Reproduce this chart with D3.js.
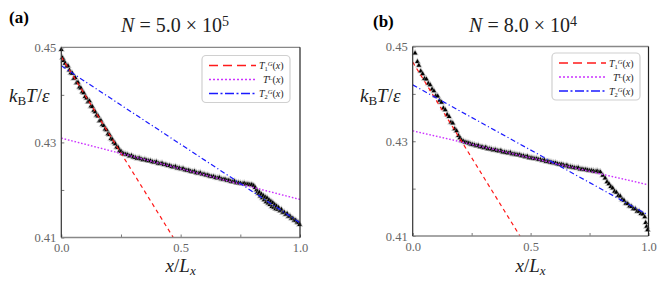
<!DOCTYPE html>
<html lang="en">
  <head>
    <meta charset="utf-8">
    <title>Temperature profiles</title>
    <style>
      body { margin: 0; background: #fff; }
      svg { display: block; }
      .tick text { font-family: "Liberation Serif", "DejaVu Serif", serif; font-size: 12.5px; fill: #666; }
      .tick line { stroke: #555; stroke-width: 0.8; }
      .serif { font-family: "Liberation Serif", "DejaVu Serif", serif; fill: #222; }
    </style>
  </head>
  <body>
    <svg id="canvas" width="664" height="284"></svg>

    <script src="https://d3js.org/d3.v7.min.js"></script>
    <script>
      // ---- data ----
      const yTicks = [0.41, 0.42, 0.43, 0.44, 0.45];
      const yLabeled = [0.41, 0.43, 0.45];
      const xTicks = [0, 0.25, 0.5, 0.75, 1];
      const xLabeled = [0, 0.5, 1];

      // panel (a), N = 5.0e5
      const pointsA = [
        [0.000,0.4495],[0.005,0.4478],[0.010,0.4472],[0.016,0.4466],[0.022,0.4460],[0.028,0.4461],
        [0.034,0.4452],[0.040,0.4446],[0.046,0.4445],[0.052,0.4434],[0.058,0.4436],[0.064,0.4425],
        [0.070,0.4426],[0.076,0.4416],[0.082,0.4414],[0.088,0.4406],[0.094,0.4404],[0.100,0.4396],
        [0.106,0.4393],[0.112,0.4385],[0.118,0.4387],[0.124,0.4376],[0.130,0.4375],[0.136,0.4367],
        [0.142,0.4364],[0.148,0.4357],[0.154,0.4355],[0.160,0.4345],[0.166,0.4346],[0.172,0.4337],
        [0.178,0.4335],[0.184,0.4328],[0.190,0.4326],[0.196,0.4318],[0.202,0.4316],[0.208,0.4308],
        [0.214,0.4306],[0.220,0.4300],[0.226,0.4297],[0.232,0.4290],[0.238,0.4289],[0.244,0.4282],
        [0.250,0.4281],[0.256,0.4277],[0.262,0.4276],
        [0.270,0.4275],[0.278,0.4274],[0.286,0.4271],[0.294,0.4272],[0.302,0.4269],[0.310,0.4268],
        [0.318,0.4266],[0.326,0.4267],[0.334,0.4265],[0.342,0.4263],[0.350,0.4264],[0.358,0.4262],
        [0.366,0.4261],[0.374,0.4261],[0.382,0.4259],[0.390,0.4258],[0.398,0.4259],[0.406,0.4256],
        [0.414,0.4255],[0.422,0.4256],[0.430,0.4253],[0.438,0.4253],[0.446,0.4251],[0.454,0.4251],
        [0.462,0.4249],[0.470,0.4248],[0.478,0.4249],[0.486,0.4246],[0.494,0.4246],[0.502,0.4244],
        [0.510,0.4245],[0.518,0.4242],[0.526,0.4241],[0.534,0.4241],[0.542,0.4239],[0.550,0.4238],
        [0.558,0.4239],[0.566,0.4236],[0.574,0.4235],[0.582,0.4236],[0.590,0.4233],[0.598,0.4233],
        [0.606,0.4231],[0.614,0.4231],[0.622,0.4229],[0.630,0.4228],[0.638,0.4228],[0.646,0.4226],
        [0.654,0.4225],[0.662,0.4226],[0.670,0.4223],[0.678,0.4222],[0.686,0.4222],[0.694,0.4220],
        [0.702,0.4220],[0.710,0.4218],[0.718,0.4217],[0.726,0.4218],[0.734,0.4215],[0.742,0.4215],
        [0.750,0.4214],[0.758,0.4213],[0.766,0.4214],[0.774,0.4212],[0.782,0.4212],[0.790,0.4211],
        [0.798,0.4211],[0.806,0.4209],
        [0.812,0.4205],[0.818,0.4200],[0.822,0.4196],[0.826,0.4192],[0.830,0.4195],[0.834,0.4187],
        [0.838,0.4191],[0.842,0.4183],[0.846,0.4188],[0.850,0.4179],[0.854,0.4185],[0.858,0.4175],
        [0.862,0.4183],[0.866,0.4172],[0.870,0.4179],[0.874,0.4169],[0.878,0.4176],[0.882,0.4165],
        [0.886,0.4173],[0.890,0.4163],[0.894,0.4169],[0.898,0.4160],[0.902,0.4166],[0.906,0.4159],
        [0.910,0.4163],[0.916,0.4156],[0.922,0.4159],[0.928,0.4152],[0.934,0.4153],[0.940,0.4148],
        [0.946,0.4150],[0.952,0.4144],[0.958,0.4145],[0.964,0.4140],[0.970,0.4140],[0.976,0.4136],
        [0.982,0.4136],[0.988,0.4132],[0.994,0.4131],[0.998,0.4127]
      ];
      const t1gA = [[0, 0.4480], [1, 0.3670]];
      const tLA  = [[0, 0.4309], [1, 0.4180]];
      const t2gA = [[0, 0.4461], [1, 0.4131]];

      // panel (b), N = 8.0e4
      const pointsB = [
        [0.010,0.4486],[0.020,0.4468],[0.026,0.4460],[0.034,0.4448],[0.042,0.4442],[0.050,0.4432],
        [0.058,0.4431],[0.066,0.4422],[0.074,0.4419],[0.082,0.4410],[0.090,0.4406],[0.098,0.4396],
        [0.106,0.4395],[0.114,0.4386],[0.122,0.4382],[0.130,0.4370],[0.138,0.4366],[0.146,0.4356],
        [0.154,0.4352],[0.162,0.4340],[0.170,0.4338],[0.178,0.4326],[0.186,0.4322],[0.194,0.4312],
        [0.200,0.4307],[0.206,0.4302],
        [0.214,0.4300],[0.222,0.4298],[0.230,0.4297],[0.238,0.4296],[0.246,0.4294],[0.254,0.4293],
        [0.262,0.4292],[0.270,0.4290],[0.278,0.4291],[0.286,0.4288],[0.294,0.4288],[0.302,0.4286],
        [0.310,0.4287],[0.318,0.4284],[0.326,0.4284],[0.334,0.4283],[0.342,0.4281],[0.350,0.4282],
        [0.358,0.4280],[0.366,0.4279],[0.374,0.4280],[0.382,0.4277],[0.390,0.4277],[0.398,0.4276],
        [0.406,0.4275],[0.414,0.4276],[0.422,0.4273],[0.430,0.4273],[0.438,0.4272],[0.446,0.4271],
        [0.454,0.4271],[0.462,0.4269],[0.470,0.4269],[0.478,0.4267],[0.486,0.4268],[0.494,0.4265],
        [0.502,0.4265],[0.510,0.4264],[0.518,0.4263],[0.526,0.4263],[0.534,0.4261],[0.542,0.4261],
        [0.550,0.4259],[0.558,0.4260],[0.566,0.4257],[0.574,0.4257],[0.582,0.4256],[0.590,0.4255],
        [0.598,0.4254],[0.606,0.4254],[0.614,0.4252],[0.622,0.4251],[0.630,0.4251],[0.638,0.4250],
        [0.646,0.4248],[0.654,0.4249],[0.662,0.4246],[0.670,0.4246],[0.678,0.4245],[0.686,0.4244],
        [0.694,0.4243],[0.702,0.4244],[0.710,0.4241],[0.718,0.4241],[0.726,0.4240],[0.734,0.4240],
        [0.742,0.4239],[0.750,0.4238],[0.758,0.4238],[0.766,0.4237],[0.774,0.4236],[0.782,0.4237],
        [0.790,0.4235],[0.796,0.4235],
        [0.806,0.4228],[0.816,0.4222],[0.824,0.4214],[0.832,0.4210],[0.840,0.4204],[0.848,0.4201],
        [0.856,0.4194],[0.864,0.4192],[0.872,0.4185],[0.880,0.4184],[0.888,0.4177],[0.896,0.4175],
        [0.904,0.4169],[0.912,0.4168],[0.920,0.4163],[0.928,0.4162],[0.936,0.4157],[0.944,0.4157],
        [0.952,0.4152],[0.960,0.4152],[0.968,0.4147],[0.976,0.4146],[0.984,0.4140],[0.988,0.4128],
        [0.992,0.4120],[0.996,0.4113]
      ];
      const t1gB = [[0, 0.4467], [1, 0.3660]];
      const tLB  = [[0, 0.4322], [1, 0.4208]];
      const t2gB = [[0, 0.4419], [1, 0.4144]];

      const svg = d3.select('#canvas');

      const styles = {
        t1g: {color: '#ff1a1a', dash: '4,3.5', legendDash: '9,5', width: 1.2},
        tL:  {color: '#cc33ff', dash: '1.6,1.8', legendDash: '2,2', width: 1.4},
        t2g: {color: '#1a1aff', dash: '5,2.5,1.2,2.5', legendDash: '9,2.5,2,2.5', width: 1.2}
      };

      // parts: [text, italic, shift (1 sup, -1 sub), size]
      function mathLabel(g, parts) {
        parts.forEach(p => {
          const t = g.append('tspan').text(p[0]);
          if (p[1]) t.attr('font-style', 'italic');
          if (p[3]) t.attr('font-size', p[3]);
          if (p[2]) t.attr('baseline-shift', p[2] > 0 ? '45%' : '-25%');
        });
      }

      function draw_panel(cfg) {
        const x = d3.scaleLinear().domain([0, 1]).range([cfg.left, cfg.right]);
        const y = d3.scaleLinear().domain([0.41, 0.45]).range([cfg.bottom, cfg.top]);
        const g = svg.append('g');

        const clipId = 'clip' + cfg.tag;
        svg.append('clipPath').attr('id', clipId)
          .append('rect')
          .attr('x', cfg.left).attr('y', cfg.top)
          .attr('width', cfg.right - cfg.left).attr('height', cfg.bottom - cfg.top);

        // axes with inward ticks
        g.append('g')
          .attr('transform', `translate(0,${cfg.bottom})`)
          .call(d3.axisBottom(x).tickValues(xTicks).tickSize(-3).tickPadding(6)
            .tickFormat(d => xLabeled.includes(d) ? d3.format('.1f')(d) : ''))
          .call(a => a.select('.domain').remove());
        g.append('g')
          .attr('transform', `translate(${cfg.left},0)`)
          .call(d3.axisLeft(y).tickValues(yTicks).tickSize(-3).tickPadding(5)
            .tickFormat(d => yLabeled.includes(d) ? d3.format('.2f')(d) : ''))
          .call(a => a.select('.domain').remove());

        // data points
        g.append('g').selectAll('path')
          .data(cfg.points)
          .join('path')
          .attr('d', d3.symbol(d3.symbolTriangle, 9))
          .attr('transform', d => `translate(${x(d[0])},${y(d[1])})`)
          .attr('fill', '#000')
          .attr('stroke', '#999')
          .attr('stroke-opacity', 0.5)
          .attr('stroke-width', 1.6)
          .attr('paint-order', 'stroke');

        // fit lines
        const line = d3.line().x(d => x(d[0])).y(d => y(d[1]));
        const fits = g.append('g').attr('clip-path', `url(#${clipId})`);
        [['t1g', cfg.t1g], ['tL', cfg.tL], ['t2g', cfg.t2g]].forEach(([k, d]) => {
          fits.append('path')
            .attr('d', line(d))
            .attr('fill', 'none')
            .attr('stroke', styles[k].color)
            .attr('stroke-width', styles[k].width)
            .attr('stroke-dasharray', styles[k].dash);
        });

        // frame
        g.append('line').attr('x1', cfg.left).attr('x2', cfg.right).attr('y1', cfg.top).attr('y2', cfg.top)
          .attr('stroke', '#888').attr('stroke-width', 1.3);
        g.append('line').attr('x1', cfg.left).attr('x2', cfg.right).attr('y1', cfg.bottom).attr('y2', cfg.bottom)
          .attr('stroke', '#888').attr('stroke-width', 1.3);
        g.append('line').attr('x1', cfg.left).attr('x2', cfg.left).attr('y1', cfg.top).attr('y2', cfg.bottom)
          .attr('stroke', '#333').attr('stroke-width', 1.2);
        g.append('line').attr('x1', cfg.right).attr('x2', cfg.right).attr('y1', cfg.top).attr('y2', cfg.bottom)
          .attr('stroke', '#222').attr('stroke-width', 1.2);

        // legend
        const lg = g.append('g');
        lg.append('rect')
          .attr('x', cfg.legend.x).attr('y', cfg.legend.y)
          .attr('width', 88).attr('height', 47).attr('rx', 4)
          .attr('fill', '#fff').attr('fill-opacity', 0.85)
          .attr('stroke', '#d0d0d0').attr('stroke-width', 1.2);
        const rows = [
          ['t1g', [['T', true], ['1', false, -1, 6.5], ['G', true, 1, 6.5], ['(', false, 0, 10], ['x', true], [')', false]]],
          ['tL',  [['T', true], ['L', false, 1, 6.5], ['(', false, 0, 10], ['x', true], [')', false]]],
          ['t2g', [['T', true], ['2', false, -1, 6.5], ['G', true, 1, 6.5], ['(', false, 0, 10], ['x', true], [')', false]]]
        ];
        rows.forEach(([k, label], i) => {
          const ry = cfg.legend.y + 10 + i * 14;
          lg.append('line')
            .attr('x1', cfg.legend.x + 7).attr('x2', cfg.legend.x + 54)
            .attr('y1', ry).attr('y2', ry)
            .attr('stroke', styles[k].color)
            .attr('stroke-width', 1.6)
            .attr('stroke-dasharray', styles[k].legendDash);
          const t = lg.append('text').attr('class', 'serif')
            .attr('x', cfg.legend.x + (k === 'tL' ? 61 : 57)).attr('y', ry + 3.5)
            .attr('font-size', 10).attr('fill', '#444');
          mathLabel(t, label);
        });

        // titles and axis labels
        svg.append('text')
          .attr('x', cfg.tagX).attr('y', cfg.tagY)
          .style('font-family', '"Liberation Serif", "DejaVu Serif", serif')
          .style('font-weight', 'bold')
          .attr('font-size', 17)
          .text(`(${cfg.tag})`);

        const title = svg.append('text').attr('class', 'serif')
          .attr('x', cfg.titleX).attr('y', 32)
          .attr('text-anchor', 'middle')
          .attr('font-size', 20);
        mathLabel(title, [['N', true], [' = ' + cfg.mant + ' × 10', false], [cfg.exp, false, 1, 14]]);

        const yl = svg.append('text').attr('class', 'serif')
          .attr('x', cfg.ylabX).attr('y', 102)
          .attr('font-size', 19);
        mathLabel(yl, [['k', true], ['B', false, -1, 13], ['T', true], ['/', false], ['ε', true]]);

        const xl = svg.append('text').attr('class', 'serif')
          .attr('x', (cfg.left + cfg.right) / 2).attr('y', 272)
          .attr('text-anchor', 'middle')
          .attr('font-size', 19);
        mathLabel(xl, [['x', true], ['/', false], ['L', true], ['x', true, -1, 13]]);
      }

      draw_panel({
        tag: 'a', tagX: 9, tagY: 23,
        left: 61.3, right: 300, top: 47.3, bottom: 237.5,
        points: pointsA, t1g: t1gA, tL: tLA, t2g: t2gA,
        legend: {x: 202, y: 55.5},
        titleX: 175, mant: '5.0', exp: '5', ylabX: 9
      });

      draw_panel({
        tag: 'b', tagX: 373, tagY: 27,
        left: 412.7, right: 648.5, top: 46.5, bottom: 236,
        points: pointsB, t1g: t1gB, tL: tLB, t2g: t2gB,
        legend: {x: 552, y: 53},
        titleX: 523, mant: '8.0', exp: '4', ylabX: 360
      });
    </script>
  </body>
</html>
